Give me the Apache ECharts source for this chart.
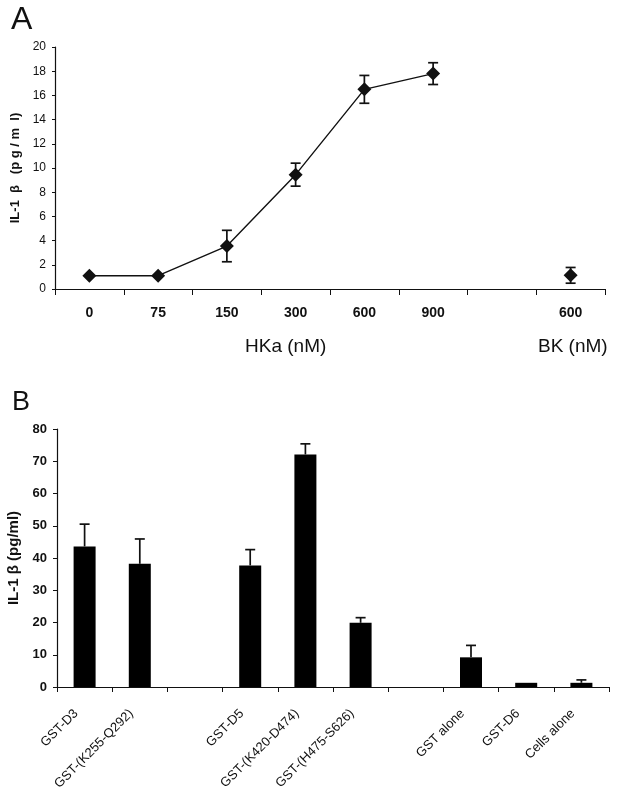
<!DOCTYPE html>
<html><head><meta charset="utf-8">
<script src="https://cdn.jsdelivr.net/npm/echarts@6/dist/echarts.min.js"></script>
<style>html,body{margin:0;padding:0;background:#fff}#c{width:624px;height:801px}</style>
</head><body><div id="c"></div>
<script>
// Panel A
const catsA = ['0', '75', '150', '300', '600', '900', '', '600'];
const hkaValues = [1.1, 1.1, 3.55, 9.45, 16.5, 17.8, null, null];
const bkValues = [null, null, null, null, null, null, null, 1.13];
const errA = [0, 0, 1.3, 0.95, 1.15, 0.9, null, 0.65];
const yTicksA = {min: 0, max: 20, interval: 2};
// Panel B
const catsB = ['GST-D3', 'GST-(K255-Q292)', '', 'GST-D5', 'GST-(K420-D474)', 'GST-(H475-S626)', '', 'GST alone', 'GST-D6', 'Cells alone'];
const valuesB = [43.6, 38.2, null, 37.7, 72.1, 19.9, null, 9.2, 1.3, 1.3];
const errB = [6.9, 7.7, null, 4.9, 3.3, 1.6, null, 3.7, 0, 0.9];
const yTicksB = {min: 0, max: 80, interval: 10};

const F = 'Arial, "Liberation Sans", sans-serif';
const ink = '#111';

const errDataA = [];
catsA.forEach((c, i) => {
  const v = hkaValues[i] != null ? hkaValues[i] : bkValues[i];
  if (v != null && errA[i]) errDataA.push([i, v - errA[i], v + errA[i]]);
});
const errDataB = [];
catsB.forEach((c, i) => {
  if (valuesB[i] != null && errB[i]) errDataB.push([i, valuesB[i], valuesB[i] + errB[i]]);
});

function errRender(twoSided, cap) {
  return function (params, api) {
    const x = api.value(0);
    const lo = api.coord([x, api.value(1)]);
    const hi = api.coord([x, api.value(2)]);
    const st = {stroke: ink, lineWidth: 1.7};
    const ch = [
      {type: 'line', shape: {x1: lo[0], y1: lo[1], x2: hi[0], y2: hi[1]}, style: st},
      {type: 'line', shape: {x1: hi[0] - cap, y1: hi[1], x2: hi[0] + cap, y2: hi[1]}, style: st}
    ];
    if (twoSided) ch.push({type: 'line', shape: {x1: lo[0] - cap, y1: lo[1], x2: lo[0] + cap, y2: lo[1]}, style: st});
    return {type: 'group', children: ch};
  };
}

const chart = echarts.init(document.getElementById('c'), null, {renderer: 'canvas'});
chart.setOption({
  animation: false,
  backgroundColor: '#fff',
  grid: [
    {left: 55, top: 47, width: 550, height: 242, containLabel: false, outerBoundsMode: 'none'},
    {left: 57, top: 429, width: 552, height: 258, containLabel: false, outerBoundsMode: 'none'}
  ],
  xAxis: [
    {gridIndex: 0, type: 'category', data: catsA, boundaryGap: true,
     axisLine: {lineStyle: {color: ink, width: 1.2}},
     axisTick: {show: true, interval: 0, length: 6, lineStyle: {color: ink}},
     axisLabel: {interval: 0, margin: 17, fontFamily: F, fontSize: 14, fontWeight: 'bold', color: ink}},
    {gridIndex: 1, type: 'category', data: catsB, boundaryGap: true,
     axisLine: {lineStyle: {color: ink, width: 1.2}},
     axisTick: {show: true, interval: 0, length: 5, lineStyle: {color: ink}},
     axisLabel: {interval: 0, rotate: 45, margin: 16, padding: [0, 12, 0, 0], fontFamily: F, fontSize: 13, color: ink}}
  ],
  yAxis: [
    {gridIndex: 0, type: 'value', min: yTicksA.min, max: yTicksA.max, interval: yTicksA.interval,
     name: 'IL-1  β   (p g / m  l)', nameLocation: 'middle', nameGap: 31,
     nameTextStyle: {fontFamily: F, fontSize: 13, fontWeight: 'bold', color: ink},
     axisLine: {show: true, lineStyle: {color: ink, width: 1.2}},
     axisTick: {show: true, length: 3, lineStyle: {color: ink}},
     splitLine: {show: false},
     axisLabel: {margin: 9, fontFamily: F, fontSize: 12, color: ink}},
    {gridIndex: 1, type: 'value', min: yTicksB.min, max: yTicksB.max, interval: yTicksB.interval,
     name: 'IL-1 β (pg/ml)', nameLocation: 'middle', nameGap: 32,
     nameTextStyle: {fontFamily: F, fontSize: 15, fontWeight: 'bold', color: ink},
     axisLine: {show: true, lineStyle: {color: ink, width: 1.2}},
     axisTick: {show: true, length: 4, lineStyle: {color: ink}},
     splitLine: {show: false},
     axisLabel: {margin: 10, fontFamily: F, fontSize: 13, fontWeight: 'bold', color: ink}}
  ],
  series: [
    {type: 'custom', xAxisIndex: 0, yAxisIndex: 0, renderItem: errRender(true, 5), data: errDataA, z: 3},
    {type: 'line', xAxisIndex: 0, yAxisIndex: 0, data: hkaValues, connectNulls: false,
     symbol: 'diamond', symbolSize: 14, showAllSymbol: true,
     lineStyle: {color: ink, width: 1.4}, itemStyle: {color: ink}, z: 4},
    {type: 'line', xAxisIndex: 0, yAxisIndex: 0, data: bkValues,
     symbol: 'diamond', symbolSize: 14, showAllSymbol: true,
     lineStyle: {width: 0}, itemStyle: {color: ink}, z: 4},
    {type: 'bar', xAxisIndex: 1, yAxisIndex: 1, data: valuesB, barWidth: 22,
     itemStyle: {color: '#000'}, z: 2},
    {type: 'custom', xAxisIndex: 1, yAxisIndex: 1, renderItem: errRender(false, 5), data: errDataB, z: 3}
  ],
  graphic: [
    {type: 'text', left: 11, top: 4, style: {text: 'A', font: '32px ' + F, fill: ink}},
    {type: 'text', left: 12, top: 389, style: {text: 'B', font: '27px ' + F, fill: ink}},
    {type: 'text', left: 245, top: 337, style: {text: 'HKa (nM)', font: '19px ' + F, fill: ink}},
    {type: 'text', left: 538, top: 337, style: {text: 'BK (nM)', font: '19px ' + F, fill: ink}}
  ]
});
</script></body></html>
